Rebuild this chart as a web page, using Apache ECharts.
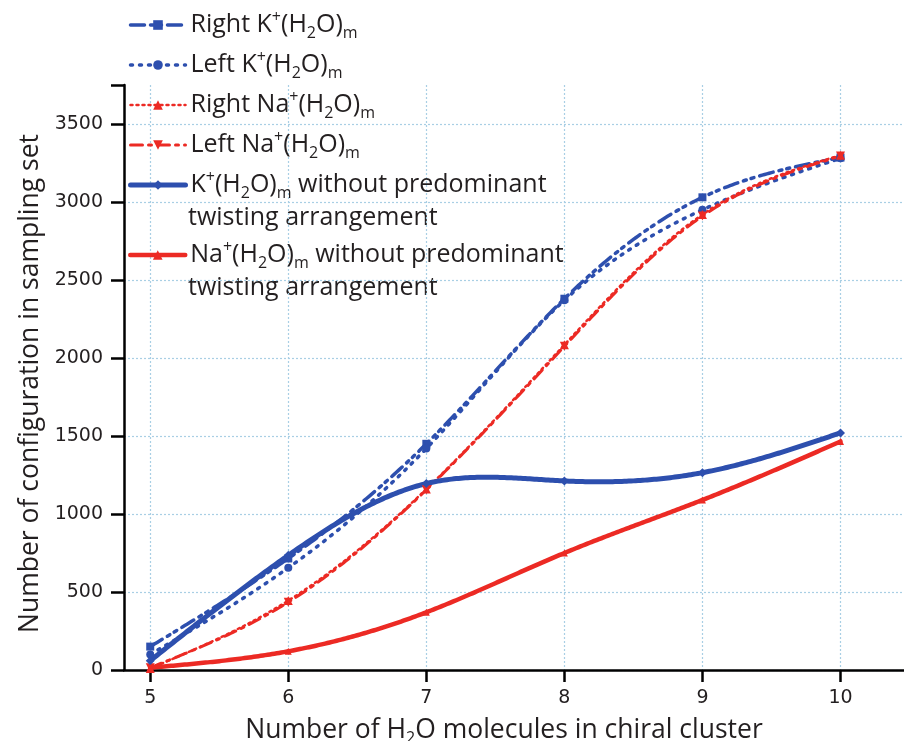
<!DOCTYPE html>
<html>
<head>
<meta charset="utf-8">
<script src="https://cdn.jsdelivr.net/npm/echarts@6/dist/echarts.min.js"></script>
<style>
  html, body { margin: 0; padding: 0; background: #ffffff; }
  #chart { width: 904px; height: 741px; }
</style>
</head>
<body>
<div id="chart"></div>
<script>
// Number of water molecules in the chiral cluster
const waterCounts = [5, 6, 7, 8, 9, 10];

// Number of configurations in the sampling set
const rightK = [150, 715, 1450, 2380, 3030, 3285];
const leftK = [100, 655, 1420, 2370, 2950, 3280];
const rightNa = [10, 445, 1160, 2085, 2920, 3300];
const leftNa = [15, 435, 1155, 2075, 2910, 3295];
const kNoTwist = [60, 735, 1195, 1212, 1265, 1520];
const naNoTwist = [15, 120, 370, 750, 1090, 1465];

// Axis tick labels
const xTickValues = [5, 6, 7, 8, 9, 10];
const yTickValues = [0, 500, 1000, 1500, 2000, 2500, 3000, 3500];
const yMinorTickValues = [250, 750, 1250, 1750, 2250, 2750, 3250];

const BLUE = '#2d4fae';
const RED = '#ec2a24';
const INK = '#231f20';
const GRID = '#a9cfe4';
const TEXT_FONT = 'Open Sans';
const NUM_FONT = 'DejaVu Sans';

const names = {
  rightK: 'Right K+(H2O)m',
  leftK: 'Left K+(H2O)m',
  rightNa: 'Right Na+(H2O)m',
  leftNa: 'Left Na+(H2O)m',
  kNoTwist: 'K+(H2O)m without predominant',
  naNoTwist: 'Na+(H2O)m without predominant'
};

// Rich-text legend names (superscript charge, subscripts)
const legendRich = {
  [names.rightK]: 'Right K{sup|+}(H{sub|2}O){sub|m}',
  [names.leftK]: 'Left K{sup|+}(H{sub|2}O){sub|m}',
  [names.rightNa]: 'Right Na{sup|+}(H{sub|2}O){sub|m}',
  [names.leftNa]: 'Left Na{sup|+}(H{sub|2}O){sub|m}',
  [names.kNoTwist]: 'K{sup|+}(H{sub|2}O){sub|m} without predominant',
  [names.naNoTwist]: 'Na{sup|+}(H{sub|2}O){sub|m} without predominant'
};

const richStyles = {
  sup: { fontFamily: TEXT_FONT, fontSize: 16, color: INK, padding: [0, 0, 16, 0], lineHeight: 40 },
  sub: { fontFamily: TEXT_FONT, fontSize: 16, color: INK, padding: [16, 0, 0, 0], lineHeight: 40 }
};

// Line looks: [color, width, dash, symbol, symbolSize, symbolRotate]
const looks = {
  rightK: [BLUE, 3.5, [14, 6, 3, 5, 3, 6], 'rect', 8, 0],
  leftK: [BLUE, 3.5, [2, 7], 'circle', 8, 0],
  rightNa: [RED, 2.5, [2, 4], 'triangle', 9, 0],
  leftNa: [RED, 3, [12, 6, 3, 6], 'triangle', 9, 180],
  kNoTwist: [BLUE, 5, null, 'diamond', 9, 0],
  naNoTwist: [RED, 4.5, null, 'triangle', 7, 0]
};

// Natural cubic spline through (xs, ys)
function naturalSpline(xs, ys) {
  const n = xs.length;
  const h = [];
  for (let i = 0; i < n - 1; i++) h.push(xs[i + 1] - xs[i]);
  const M = new Array(n).fill(0);
  const a = [], b = [], c = [], d = [];
  for (let i = 1; i < n - 1; i++) {
    a.push(h[i - 1]);
    b.push(2 * (h[i - 1] + h[i]));
    c.push(h[i]);
    d.push(6 * ((ys[i + 1] - ys[i]) / h[i] - (ys[i] - ys[i - 1]) / h[i - 1]));
  }
  const m = b.length;
  for (let i = 1; i < m; i++) {
    const w = a[i] / b[i - 1];
    b[i] -= w * c[i - 1];
    d[i] -= w * d[i - 1];
  }
  const sol = new Array(m);
  sol[m - 1] = d[m - 1] / b[m - 1];
  for (let i = m - 2; i >= 0; i--) sol[i] = (d[i] - c[i] * sol[i + 1]) / b[i];
  for (let i = 0; i < m; i++) M[i + 1] = sol[i];
  return function (x) {
    let i = 0;
    while (i < n - 2 && x > xs[i + 1]) i++;
    const hi = h[i];
    const A = xs[i + 1] - x, B = x - xs[i];
    return M[i] * A * A * A / (6 * hi) + M[i + 1] * B * B * B / (6 * hi)
      + (ys[i] / hi - M[i] * hi / 6) * A + (ys[i + 1] / hi - M[i + 1] * hi / 6) * B;
  };
}

// Smooth curve through the measured points, drawn through the cartesian axes
function curveSeries(values, look, z) {
  const f = naturalSpline(waterCounts, values);
  const x0 = waterCounts[0], x1 = waterCounts[waterCounts.length - 1];
  return {
    type: 'custom',
    coordinateSystem: 'cartesian2d',
    silent: true,
    z: z,
    data: [[x0, values[0]]],
    renderItem: function (params, api) {
      const pts = [];
      const steps = 300;
      for (let k = 0; k <= steps; k++) {
        const x = x0 + (x1 - x0) * k / steps;
        pts.push(api.coord([x, f(x)]));
      }
      return {
        type: 'polyline',
        shape: { points: pts },
        style: { stroke: look[0], lineWidth: look[1], lineDash: look[2], fill: null, lineCap: 'round', lineJoin: 'round' }
      };
    }
  };
}

// Marker series (also feeds the legend)
function markerSeries(name, values, look, z) {
  return {
    name: name,
    type: 'line',
    data: waterCounts.map((x, i) => [x, values[i]]),
    symbol: look[3],
    symbolSize: look[4],
    symbolRotate: look[5],
    showSymbol: true,
    z: z,
    lineStyle: { color: look[0], width: look[1], type: look[2] || 'solid', opacity: 0 },
    itemStyle: { color: look[0] },
    emphasis: { disabled: true },
    animation: false
  };
}

function legendItem(key) {
  const look = looks[key];
  return {
    name: names[key],
    lineStyle: { color: look[0], width: look[1], type: look[2] || 'solid', opacity: 1, cap: 'round' }
  };
}

const legendBase = {
  orient: 'vertical',
  left: 128,
  padding: 0,
  itemGap: 0,
  itemWidth: 55,
  itemHeight: 12,
  selectedMode: false,
  formatter: name => legendRich[name],
  textStyle: {
    fontFamily: TEXT_FONT,
    fontSize: 25,
    color: INK,
    lineHeight: 40,
    rich: richStyles
  }
};

const keys = ['rightK', 'leftK', 'rightNa', 'leftNa', 'kNoTwist', 'naNoTwist'];
const dataByKey = { rightK, leftK, rightNa, leftNa, kNoTwist, naNoTwist };

const series = [];
keys.forEach((key, i) => {
  series.push(curveSeries(dataByKey[key], looks[key], 2 + i * 0.01));
});
keys.forEach((key, i) => {
  series.push(markerSeries(names[key], dataByKey[key], looks[key], 3 + i * 0.01));
});

const chart = echarts.init(document.getElementById('chart'), null, { renderer: 'canvas' });

chart.setOption({
  backgroundColor: '#ffffff',
  animation: false,
  grid: { left: 124, right: 0, top: 85, bottom: 71, containLabel: false, outerBoundsMode: 'none' },
  legend: [
    Object.assign({}, legendBase, {
      top: 5,
      data: ['rightK', 'leftK', 'rightNa', 'leftNa', 'kNoTwist'].map(legendItem)
    }),
    Object.assign({}, legendBase, {
      top: 235,
      data: [legendItem('naNoTwist')]
    })
  ],
  graphic: [
    {
      type: 'text', left: 188, top: 205, silent: true,
      style: { text: 'twisting arrangement', font: '25px "Open Sans"', fill: INK }
    },
    {
      type: 'text', left: 188, top: 275, silent: true,
      style: { text: 'twisting arrangement', font: '25px "Open Sans"', fill: INK }
    }
  ],
  xAxis: {
    type: 'value',
    min: 4.81,
    max: 10.46,
    name: 'Number of H{sub|2}O molecules in chiral cluster',
    nameLocation: 'middle',
    nameGap: 44,
    nameTextStyle: {
      fontFamily: TEXT_FONT,
      fontSize: 26.5,
      color: INK,
      padding: [0, 20, 0, 0],
      rich: {
        sub: { fontFamily: TEXT_FONT, fontSize: 16, color: INK, padding: [16, 0, 0, 0] }
      }
    },
    axisLine: { show: true, onZero: false, lineStyle: { color: '#000', width: 2.5 } },
    axisTick: { show: true, inside: false, length: 12, customValues: xTickValues, lineStyle: { color: '#000', width: 2.5 } },
    axisLabel: { customValues: xTickValues, fontFamily: NUM_FONT, fontSize: 19, color: INK, margin: 19 },
    splitLine: { show: true, lineStyle: { color: GRID, width: 1.2, type: [2, 2] } }
  },
  yAxis: [
    {
      type: 'value',
      min: 0,
      max: 3750,
      name: 'Number of configuration in sampling set',
      nameLocation: 'middle',
      nameGap: 80,
      nameRotate: 90,
      nameTextStyle: { fontFamily: TEXT_FONT, fontSize: 26.5, color: INK, padding: [0, 12, 0, 0] },
      axisLine: { show: true, onZero: false, lineStyle: { color: '#000', width: 2.5 } },
      axisTick: { show: true, inside: false, length: 13, customValues: yTickValues.concat([3750]), lineStyle: { color: '#000', width: 2.5 } },
      axisLabel: { customValues: yTickValues, formatter: v => String(v), fontFamily: NUM_FONT, fontSize: 19, color: INK, margin: 21 },
      splitLine: { show: false }
    },
    {
      // horizontal grid lines at the labelled values
      type: 'value', min: 0, max: 3750,
      axisLine: { show: false },
      axisTick: { show: false, customValues: yTickValues },
      axisLabel: { show: false },
      splitLine: { show: true, lineStyle: { color: GRID, width: 1.2, type: [2, 2] } }
    },
    {
      // short minor ticks between labelled values
      type: 'value', min: 0, max: 3750,
      axisLine: { show: false },
      axisTick: { show: true, inside: false, length: 7, customValues: yMinorTickValues, lineStyle: { color: '#000', width: 2.5 } },
      axisLabel: { show: false },
      splitLine: { show: false }
    }
  ],
  series: series
});
</script>
</body>
</html>
